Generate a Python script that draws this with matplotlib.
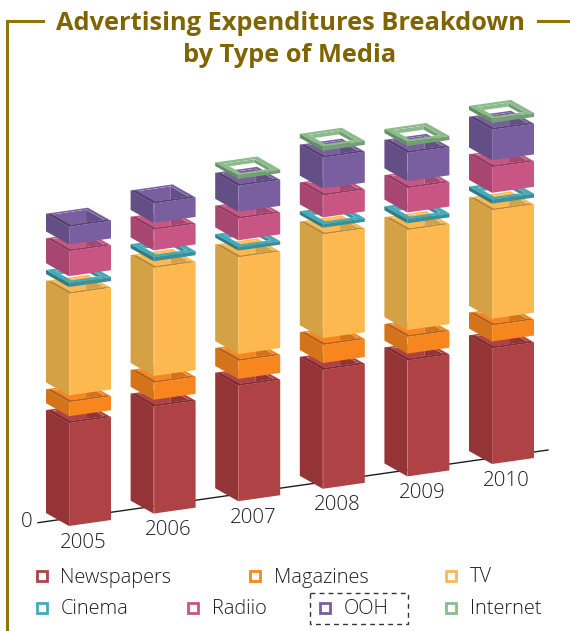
import numpy as np
import matplotlib
matplotlib.use('Agg')
import matplotlib.pyplot as plt
from matplotlib.patches import Polygon, PathPatch, Rectangle
from matplotlib.path import Path

years = ['2005', '2006', '2007', '2008', '2009', '2010']
names = ['Newspapers', 'Magazines', 'TV', 'Cinema', 'Radiio', 'OOH', 'Internet']

newspapers = [103, 107, 115.5, 119, 116, 115.7]
magazines = [14, 17, 18, 18, 16.7, 16]
tv = [101.6, 108, 96.7, 103.7, 100, 108.3]
cinema = [4, 4, 3.5, 3.5, 4, 4]
radio = [25, 20.7, 21.7, 22, 24.4, 25.6]
ooh = [17.7, 19.5, 26, 31, 28.5, 30.7]
internet = [0, 0, 3.5, 4, 4, 4]
series = [newspapers, magazines, tv, cinema, radio, ooh, internet]

front_colors = ['#AE4245', '#F7861F', '#FDB84F', '#44A9B8', '#C95585', '#7A5FA0', '#8BBB8A']
side_colors = ['#953437', '#D3741B', '#D5A145', '#3A8F9C', '#A74671', '#644E86', '#72A072']
dark_colors = ['#7F2C2F', '#B4631A', '#B98C3C', '#2F7C88', '#8F3C60', '#54416F', '#629062']

TITLE_COLOR = '#7F6400'
FRAME_COLOR = '#8F7406'
TEXT_COLOR = '#1E1E1E'
FONT = 'Open Sans'

# oblique projection of the boxes, in pixels
START = np.array([69.0, 526.0])
STEP = np.array([84.6, -12.4])
WIDTH = np.array([42.0, -6.0])
DEPTH = np.array([-23.0, -13.0])
GAP = 6.8
RIM = 0.1
RIM_THIN = 0.14
THIN = 6


def top_point(corner, u, v):
    return corner + u * WIDTH + v * DEPTH


def draw_box(ax, corner, height, i):
    # corner is the front bottom corner, boxes are open at the top
    thin = height < THIN
    top = corner + np.array([0, -height])
    a = RIM_THIN if thin else RIM
    b = 1 - a
    hole = [top_point(top, a, a), top_point(top, b, a), top_point(top, b, b), top_point(top, a, b)]
    outer = [top_point(top, 0, 0), top_point(top, 1, 0), top_point(top, 1, 1), top_point(top, 0, 1)]
    down = np.array([0, height])

    # inner walls seen through the opening
    clip = Polygon(hole, transform=ax.transData)
    left_wall = Polygon([hole[3], hole[2], hole[2] + down, hole[3] + down], fc=front_colors[i], ec='none')
    right_wall = Polygon([hole[1], hole[2], hole[2] + down, hole[1] + down], fc=side_colors[i], ec='none')
    ax.add_patch(left_wall)
    ax.add_patch(right_wall)
    left_wall.set_clip_path(clip)
    right_wall.set_clip_path(clip)

    # rim as a ring around the opening
    verts = outer + [outer[0]] + hole[::-1] + [hole[-1]]
    codes = [Path.MOVETO] + [Path.LINETO] * 3 + [Path.CLOSEPOLY] + [Path.MOVETO] + [Path.LINETO] * 3 + [Path.CLOSEPOLY]
    ax.add_patch(PathPatch(Path(verts, codes), fc=front_colors[i], ec='none'))
    if not thin:
        front_rim = Polygon([outer[3], outer[0], outer[1], hole[1], hole[0], hole[3]], fc=dark_colors[i], ec='none')
        ax.add_patch(front_rim)

    # outer faces
    side = dark_colors[i] if thin else side_colors[i]
    front = side_colors[i] if thin else front_colors[i]
    ax.add_patch(Polygon([corner, corner + DEPTH, top + DEPTH, top], fc=side, ec='none'))
    ax.add_patch(Polygon([corner, corner + WIDTH, top + WIDTH, top], fc=front, ec='none'))
    ax.plot([corner[0], top[0]], [corner[1], top[1]], color='white', lw=0.6, alpha=0.15, zorder=1)


fig = plt.figure(figsize=(5.7, 6.31), dpi=100)
ax = fig.add_axes([0, 0, 1, 1])
ax.set_xlim(0, 570)
ax.set_ylim(631, 0)
ax.axis('off')

# frame and title
ax.plot([43, 6.5, 6.5], [21, 21, 631], color=FRAME_COLOR, lw=2.2, solid_joinstyle='miter')
ax.plot([538, 570], [21, 21], color=FRAME_COLOR, lw=2.2)
ax.text(290, 24, 'Advertising Expenditures Breakdown', color=TITLE_COLOR, fontsize=18.3,
        fontweight='bold', family=FONT, ha='center', va='center')
ax.text(290, 56, 'by Type of Media', color=TITLE_COLOR, fontsize=18.3,
        fontweight='bold', family=FONT, ha='center', va='center')

# floor line, behind the boxes
ax.plot([38, 548], [522.7, 450], color=TEXT_COLOR, lw=1, zorder=0)
ax.text(27, 522, '0', color=TEXT_COLOR, fontsize=14.8, family=FONT, fontweight='light',
        ha='center', va='center')

for k, year in enumerate(years):
    corner = START + k * STEP
    for i, values in enumerate(series):
        h = values[k]
        if h <= 0:
            continue
        draw_box(ax, corner, h, i)
        corner = corner + np.array([0, -(h + GAP)])
    pos = START + k * STEP + np.array([14.6, 16.7])
    ax.text(pos[0], pos[1], year, color=TEXT_COLOR, fontsize=14.8, family=FONT, fontweight='light',
            ha='center', va='center')

# legend
legend_x = [42, 255, 451, 42, 193, 325, 451]
legend_y = [576, 576, 576, 608, 608, 608, 608]
for i, name in enumerate(names):
    ax.plot(legend_x[i], legend_y[i], marker='s', ms=7.2, mfc='white', mec=front_colors[i], mew=2, ls='none')
    ax.text(legend_x[i] + 18.5, legend_y[i] + 1.5, name, color=TEXT_COLOR, fontsize=14.4, family=FONT,
            fontweight='light', ha='left', va='center')
ax.add_patch(Rectangle((310, 593), 98, 31, fc='none', ec='#333333', lw=1, ls=(0, (3.5, 3))))

fig.savefig('out.png', dpi=100)
